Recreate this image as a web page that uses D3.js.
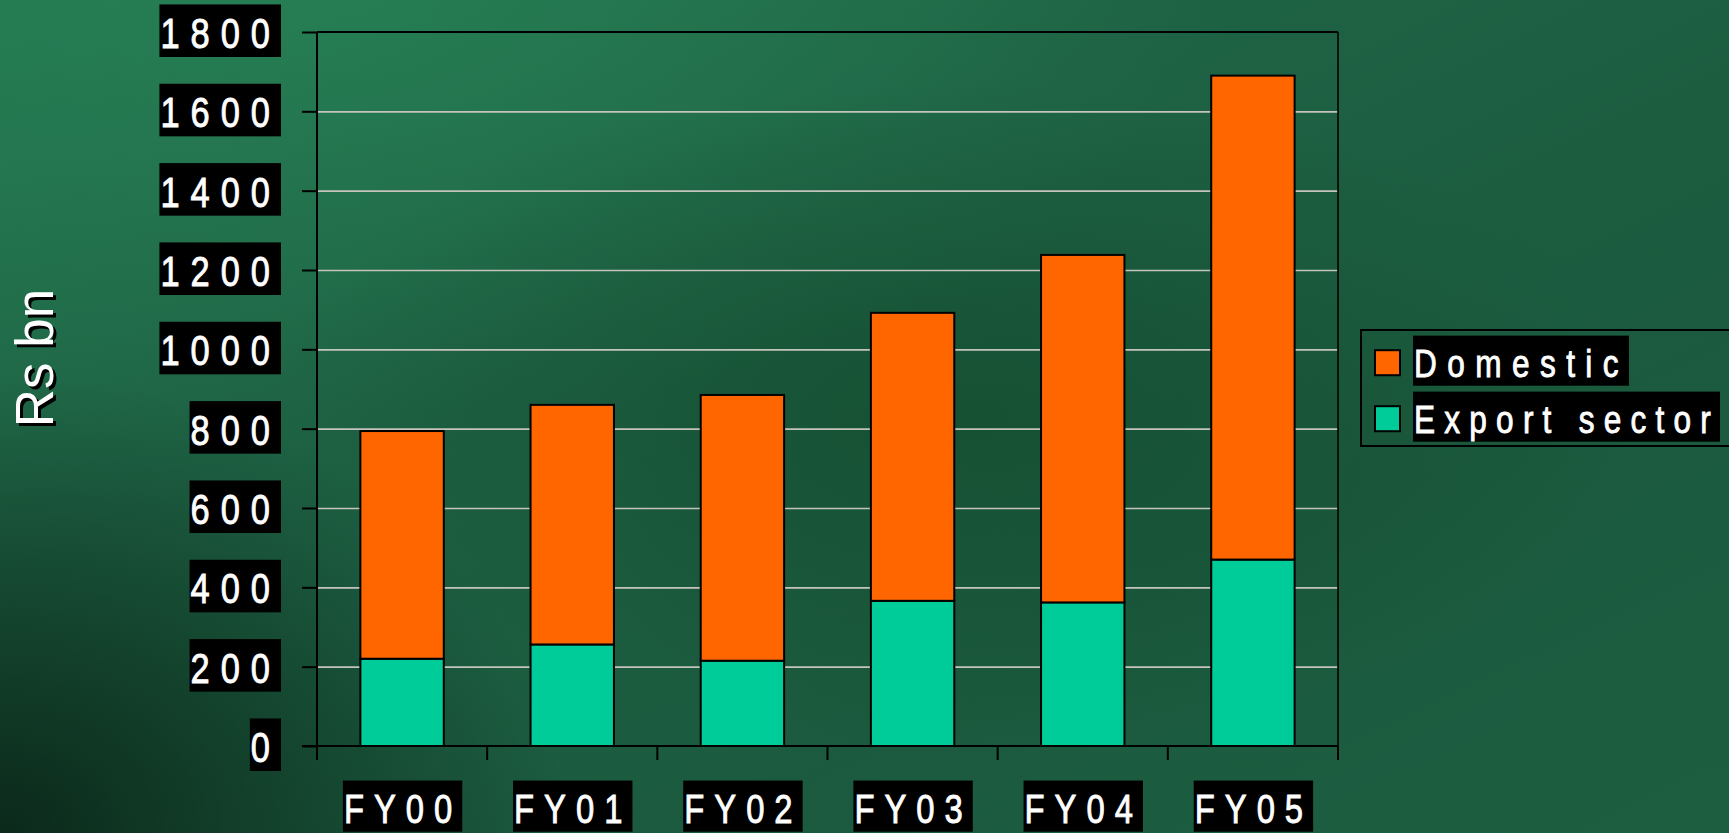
<!DOCTYPE html>
<html>
<head>
<meta charset="utf-8">
<script src="https://cdn.jsdelivr.net/npm/d3@7"></script>
<style>
  html, body { margin: 0; padding: 0; overflow: hidden; background: #1d5c3f; }
  svg { display: block; }
</style>
</head>
<body>
<svg id="chart" width="1729" height="833"></svg>
<script>
// ---- data ----
const categories = ["FY00", "FY01", "FY02", "FY03", "FY04", "FY05"];
const exportVals = [220, 256, 215, 366, 362, 470];
const domesticVals = [574, 604, 670, 726, 876, 1220];
const seriesNames = ["Export sector", "Domestic"];
const seriesColors = ["#00CC99", "#FF6600"];
const yTicks = [0, 200, 400, 600, 800, 1000, 1200, 1400, 1600, 1800];
const yTitle = "Rs bn";

// ---- layout ----
const W = 1729, H = 833;
const plot = { left: 317, right: 1338, top: 32, bottom: 746 };

const svg = d3.select("#chart");

function narrowAvailable() {
  const c = document.createElement("canvas").getContext("2d");
  c.font = '40px "Liberation Sans Narrow", "Zzz Missing"';
  const a = c.measureText("0000 Domestic").width;
  c.font = '40px "Zzz Missing"';
  const b = c.measureText("0000 Domestic").width;
  c.font = '40px "Liberation Sans"';
  const d = c.measureText("0000 Domestic").width;
  return a !== b && Math.abs(a - d) > 2;
}
const HAS_NARROW = narrowAvailable();
const SQUEEZE = 0.82;

// ---- background ----
const defs = svg.append("defs");
const g1 = defs.append("linearGradient").attr("id", "bgLin")
  .attr("x1", "0").attr("y1", "0").attr("x2", "1").attr("y2", "1");
g1.append("stop").attr("offset", "0%").attr("stop-color", "#237650");
g1.append("stop").attr("offset", "35%").attr("stop-color", "#1e6244");
g1.append("stop").attr("offset", "70%").attr("stop-color", "#1b5a3e");
g1.append("stop").attr("offset", "100%").attr("stop-color", "#1d5e41");
const r1 = defs.append("radialGradient").attr("id", "bgDark")
  .attr("cx", "0").attr("cy", "1").attr("r", "0.55")
  .attr("gradientTransform", "scale(0.6,1)");
r1.append("stop").attr("offset", "0%").attr("stop-color", "#0a2618").attr("stop-opacity", 0.95);
r1.append("stop").attr("offset", "100%").attr("stop-color", "#0a2618").attr("stop-opacity", 0);
const r2 = defs.append("radialGradient").attr("id", "bgLight")
  .attr("cx", "0.2").attr("cy", "0").attr("r", "0.5");
r2.append("stop").attr("offset", "0%").attr("stop-color", "#2a8a5a").attr("stop-opacity", 0.5);
r2.append("stop").attr("offset", "100%").attr("stop-color", "#2a8a5a").attr("stop-opacity", 0);
const r3 = defs.append("radialGradient").attr("id", "bgMid")
  .attr("cx", "0.55").attr("cy", "0.5").attr("r", "0.4");
r3.append("stop").attr("offset", "0%").attr("stop-color", "#114528").attr("stop-opacity", 0.55);
r3.append("stop").attr("offset", "100%").attr("stop-color", "#114528").attr("stop-opacity", 0);

svg.append("rect").attr("width", W).attr("height", H).attr("fill", "url(#bgLin)");
svg.append("rect").attr("width", W).attr("height", H).attr("fill", "url(#bgLight)");
svg.append("rect").attr("width", W).attr("height", H).attr("fill", "url(#bgMid)");
svg.append("rect").attr("width", W).attr("height", H).attr("fill", "url(#bgDark)");

// ---- scales ----
const y = d3.scaleLinear().domain([0, 1800]).range([plot.bottom, plot.top]);
const x = d3.scaleBand().domain(categories).range([plot.left, plot.right])
  .paddingInner(0.51).paddingOuter(0.255);
const xEdge = d3.scaleBand().domain(categories).range([plot.left, plot.right]).padding(0);

// ---- gridlines ----
const grid = d3.axisLeft(y).tickValues(yTicks.filter(v => v > 0 && v < 1800))
  .tickSize(-(plot.right - plot.left)).tickFormat("");
svg.append("g").attr("transform", `translate(${plot.left},0)`).call(grid)
  .call(g => g.select(".domain").remove())
  .call(g => g.selectAll("line").attr("stroke", "#c4c4bc").attr("stroke-width", 1.6));

// ---- bars ----
const table = categories.map((c, i) => ({ cat: c, "Export sector": exportVals[i], "Domestic": domesticVals[i] }));
const stacked = d3.stack().keys(seriesNames)(table);
const barG = svg.append("g");
stacked.forEach((layer, li) => {
  barG.append("g").selectAll("rect").data(layer).join("rect")
    .attr("x", d => x(d.data.cat))
    .attr("width", x.bandwidth())
    .attr("y", d => y(d[1]))
    .attr("height", d => y(d[0]) - y(d[1]))
    .attr("fill", seriesColors[li])
    .attr("stroke", "#000").attr("stroke-width", 2);
});

// ---- frame / axes ----
const axG = svg.append("g").attr("stroke", "#000").attr("fill", "none");
axG.append("line").attr("x1", plot.left).attr("x2", plot.right).attr("y1", plot.top).attr("y2", plot.top).attr("stroke-width", 2);
axG.append("line").attr("x1", plot.right).attr("x2", plot.right).attr("y1", plot.top).attr("y2", plot.bottom).attr("stroke-width", 1.6);

const yAxis = d3.axisLeft(y).tickValues(yTicks).tickSize(15).tickFormat("");
svg.append("g").attr("transform", `translate(${plot.left},0)`).call(yAxis)
  .call(g => g.select(".domain").attr("stroke", "#000").attr("stroke-width", 2)
    .attr("d", `M0,${plot.top}V${plot.bottom + 14}`))
  .call(g => g.selectAll("line").attr("stroke", "#000").attr("stroke-width", 2));

const xAxis = d3.axisBottom(xEdge).tickSize(14).tickFormat("");
svg.append("g").attr("transform", `translate(0,${plot.bottom})`).call(xAxis)
  .call(g => g.select(".domain").attr("stroke", "#000").attr("stroke-width", 2)
    .attr("d", `M${plot.left - 15},0H${plot.right}`))
  .call(g => g.selectAll(".tick line").attr("stroke", "#000").attr("stroke-width", 2)
    .attr("transform", `translate(${-xEdge.bandwidth() / 2},0)`));
svg.append("line").attr("x1", plot.right).attr("x2", plot.right)
  .attr("y1", plot.bottom).attr("y2", plot.bottom + 14).attr("stroke", "#000").attr("stroke-width", 2);

// ---- boxed narrow text helper ----
function boxedText(parent, tx, ty, str, fs, ls, anchor, targetW) {
  const g = parent.append("g");
  const rect = g.append("rect").attr("fill", "#000");
  let t, w;
  const sq = HAS_NARROW ? 1 : SQUEEZE;
  if (HAS_NARROW) {
    t = g.append("text").attr("x", tx).attr("y", ty)
      .attr("font-family", '"Liberation Sans Narrow", "Arial Narrow", sans-serif');
  } else {
    t = g.append("text").attr("x", 0).attr("y", 0)
      .attr("transform", `translate(${tx},${ty}) scale(${SQUEEZE},1)`)
      .attr("font-family", '"Liberation Sans", Arial, sans-serif');
  }
  t.attr("font-size", fs).attr("letter-spacing", ls / sq)
    .attr("fill", "#fff").attr("stroke", "#fff").attr("stroke-width", 0.9)
    .attr("text-anchor", anchor).text(str);
  w = t.node().getComputedTextLength() * sq;
  if (targetW) {
    const n = str.length;
    const ls2 = ls + (targetW - w) / n;
    t.attr("letter-spacing", ls2 / sq);
    w = t.node().getComputedTextLength() * sq;
  }
  const cap = 0.716 * fs;
  let x0 = tx;
  if (anchor === "end") x0 = tx - w;
  else if (anchor === "middle") x0 = tx - w / 2;
  rect.attr("x", x0 - 1).attr("width", w + 1)
    .attr("y", ty - cap - 13.5).attr("height", cap + 13.5 + 9);
  return g;
}

// ---- y tick labels ----
const yLab = svg.append("g");
yTicks.forEach(v => boxedText(yLab, 281, y(v) + 16, String(v), 42, 11, "end"));

// ---- x tick labels ----
const xLab = svg.append("g");
categories.forEach(c => boxedText(xLab, x(c) + x.bandwidth() / 2 + 1, 822.7, c, 40, 10, "middle"));

// ---- y title (with drop shadow) ----
svg.append("text").attr("transform", "translate(56,361) rotate(-90)")
  .attr("text-anchor", "middle")
  .attr("font-family", '"Liberation Sans", Arial, sans-serif').attr("font-size", 53)
  .attr("fill", "#000").text(yTitle);
svg.append("text").attr("transform", "translate(53,358) rotate(-90)")
  .attr("text-anchor", "middle")
  .attr("font-family", '"Liberation Sans", Arial, sans-serif').attr("font-size", 53)
  .attr("fill", "#fff").text(yTitle);

// ---- legend ----
const leg = svg.append("g");
leg.append("rect").attr("x", 1361).attr("y", 330).attr("width", 420).attr("height", 116)
  .attr("fill", "none").attr("stroke", "#000").attr("stroke-width", 2);
const legendOrder = ["Domestic", "Export sector"];
const legendY = [376.7, 432.7];
const legendW = [215, 306];
legendOrder.forEach((name, i) => {
  const col = seriesColors[seriesNames.indexOf(name)];
  leg.append("rect").attr("x", 1375).attr("y", legendY[i] - 26.5).attr("width", 25).attr("height", 25)
    .attr("fill", col).attr("stroke", "#000").attr("stroke-width", 2);
  boxedText(leg, 1414, legendY[i], name, 38.5, 10.5, "start", legendW[i]);
});
</script>
</body>
</html>
